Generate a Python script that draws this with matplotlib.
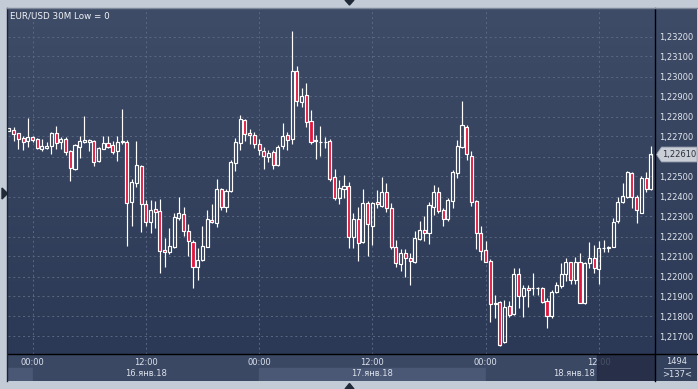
import numpy as np
import pandas as pd
import matplotlib

matplotlib.use("Agg")
import matplotlib.pyplot as plt
from matplotlib.patches import Rectangle, Polygon
from matplotlib.lines import Line2D
from matplotlib.colors import LinearSegmentedColormap
from matplotlib.transforms import blended_transform_factory

# EUR/USD 30M candles, 15.01.18 21:30 .. 18.01.18 17:30
opens = [
    1.22729, 1.22732, 1.22716, 1.22691, 1.22676, 1.22696, 1.22686, 1.22639, 1.22644, 1.22652,
    1.22716, 1.22671, 1.22686, 1.22627, 1.22537, 1.22649, 1.22671, 1.22672, 1.22677, 1.22579,
    1.22639, 1.22666, 1.22657, 1.22629, 1.22671, 1.22671, 1.22374, 1.22466, 1.22552, 1.22361,
    1.22274, 1.22337, 1.22327, 1.22132, 1.22124, 1.22149, 1.22291, 1.22311, 1.22227, 1.22174,
    1.22046, 1.22082, 1.22149, 1.22282, 1.22269, 1.22436, 1.22349, 1.22429, 1.22566, 1.22666,
    1.22782, 1.22716, 1.22706, 1.22661, 1.22629, 1.22599, 1.22621, 1.22557, 1.22652, 1.22707,
    1.22686, 1.23027, 1.22874, 1.22907, 1.22777, 1.22678, 1.22671, 1.22671, 1.22677, 1.22496,
    1.22391, 1.22436, 1.22451, 1.22196, 1.22286, 1.22171, 1.22366, 1.22254, 1.22371, 1.22354,
    1.22421, 1.22341, 1.22146, 1.22061, 1.22116, 1.22091, 1.22074, 1.22186, 1.22232, 1.22219,
    1.22349, 1.22424, 1.22332, 1.22286, 1.22379, 1.22516, 1.22649, 1.22749, 1.22604, 1.22377,
    1.22216, 1.22132, 1.22077, 1.21862, 1.21871, 1.21671, 1.21852, 1.21811, 1.22011, 1.21904,
    1.21944, 1.21940, 1.21940, 1.21941, 1.21879, 1.21802, 1.21924, 1.21954, 1.22011, 1.22071,
    1.21982, 1.22074, 1.21866, 1.22066, 1.22091, 1.22037, 1.22143, 1.22141, 1.22149, 1.22279,
    1.22374, 1.22399, 1.22516, 1.22399, 1.22319, 1.22491, 1.22436,
]
highs = [
    1.22742, 1.22746, 1.22719, 1.22702, 1.22791, 1.22702, 1.22691, 1.22686, 1.22674, 1.22724,
    1.22752, 1.22699, 1.22696, 1.22632, 1.22662, 1.22702, 1.22802, 1.22687, 1.22682, 1.22649,
    1.22702, 1.22702, 1.22679, 1.22702, 1.22836, 1.22682, 1.22486, 1.22677, 1.22557, 1.22382,
    1.22382, 1.22377, 1.22387, 1.22191, 1.22241, 1.22319, 1.22396, 1.22349, 1.22262, 1.22182,
    1.22141, 1.22252, 1.22332, 1.22362, 1.22487, 1.22441, 1.22436, 1.22582, 1.22691, 1.22807,
    1.22787, 1.22736, 1.22724, 1.22686, 1.22646, 1.22632, 1.22632, 1.22657, 1.22766, 1.22724,
    1.23227, 1.23052, 1.22941, 1.22966, 1.22832, 1.22707, 1.22752, 1.22699, 1.22687, 1.22537,
    1.22482, 1.22507, 1.22471, 1.22316, 1.22347, 1.22437, 1.22377, 1.22374, 1.22432, 1.22496,
    1.22466, 1.22369, 1.22182, 1.22137, 1.22137, 1.22116, 1.22227, 1.22277, 1.22304, 1.22371,
    1.22457, 1.22449, 1.22341, 1.22391, 1.22531, 1.22682, 1.22877, 1.22757, 1.22627, 1.22380,
    1.22252, 1.22177, 1.22087, 1.21907, 1.21877, 1.21882, 1.21879, 1.22041, 1.22041, 1.21957,
    1.21957, 1.22016, 1.21949, 1.21949, 1.21891, 1.21932, 1.21974, 1.22069, 1.22091, 1.22074,
    1.22096, 1.22119, 1.22074, 1.22174, 1.22157, 1.22177, 1.22182, 1.22152, 1.22292, 1.22399,
    1.22469, 1.22527, 1.22522, 1.22407, 1.22502, 1.22521, 1.22652,
]
lows = [
    1.22727, 1.22679, 1.22636, 1.22632, 1.22649, 1.22674, 1.22636, 1.22629, 1.22636, 1.22612,
    1.22639, 1.22637, 1.22607, 1.22479, 1.22532, 1.22591, 1.22666, 1.22627, 1.22552, 1.22574,
    1.22636, 1.22641, 1.22612, 1.22579, 1.22662, 1.22154, 1.22252, 1.22449, 1.22224, 1.22252,
    1.22219, 1.22241, 1.22016, 1.22049, 1.22112, 1.22141, 1.22282, 1.22202, 1.22102, 1.21941,
    1.21982, 1.22079, 1.22146, 1.22269, 1.22249, 1.22332, 1.22324, 1.22424, 1.22529, 1.22632,
    1.22679, 1.22662, 1.22641, 1.22607, 1.22536, 1.22574, 1.22537, 1.22552, 1.22637, 1.22632,
    1.22662, 1.22852, 1.22849, 1.22749, 1.22662, 1.22587, 1.22602, 1.22644, 1.22477, 1.22382,
    1.22362, 1.22394, 1.22144, 1.22144, 1.22079, 1.22166, 1.22104, 1.22157, 1.22341, 1.22349,
    1.22321, 1.22137, 1.22049, 1.22029, 1.21999, 1.21957, 1.22069, 1.22182, 1.22177, 1.22161,
    1.22307, 1.22316, 1.22254, 1.22277, 1.22341, 1.22494, 1.22641, 1.22582, 1.22352, 1.22137,
    1.22082, 1.22071, 1.21774, 1.21792, 1.21654, 1.21666, 1.21799, 1.21807, 1.21841, 1.21799,
    1.21849, 1.21907, 1.21907, 1.21866, 1.21741, 1.21791, 1.21916, 1.21941, 1.21977, 1.21962,
    1.21962, 1.21866, 1.21862, 1.22041, 1.22016, 1.21961, 1.22124, 1.22124, 1.22147, 1.22269,
    1.22366, 1.22391, 1.22341, 1.22269, 1.22316, 1.22424, 1.22432,
]
closes = [
    1.22741, 1.22711, 1.22686, 1.22671, 1.22696, 1.22681, 1.22641, 1.22652, 1.22652, 1.22716,
    1.22666, 1.22686, 1.22621, 1.22541, 1.22657, 1.22677, 1.22682, 1.22682, 1.22574, 1.22641,
    1.22669, 1.22649, 1.22624, 1.22672, 1.22679, 1.22369, 1.22471, 1.22557, 1.22361, 1.22271,
    1.22332, 1.22324, 1.22129, 1.22121, 1.22152, 1.22296, 1.22316, 1.22227, 1.22177, 1.22046,
    1.22082, 1.22154, 1.22287, 1.22271, 1.22436, 1.22346, 1.22429, 1.22574, 1.22671, 1.22786,
    1.22711, 1.22706, 1.22661, 1.22632, 1.22602, 1.22616, 1.22557, 1.22649, 1.22702, 1.22682,
    1.23027, 1.22879, 1.22902, 1.22774, 1.22674, 1.22680, 1.22672, 1.22672, 1.22486, 1.22391,
    1.22441, 1.22451, 1.22196, 1.22286, 1.22166, 1.22366, 1.22261, 1.22366, 1.22361, 1.22421,
    1.22341, 1.22149, 1.22066, 1.22116, 1.22091, 1.22077, 1.22191, 1.22232, 1.22216, 1.22357,
    1.22424, 1.22329, 1.22286, 1.22381, 1.22521, 1.22654, 1.22757, 1.22611, 1.22374, 1.22219,
    1.22129, 1.22074, 1.21861, 1.21866, 1.21657, 1.21846, 1.21807, 1.22011, 1.21902, 1.21944,
    1.21932, 1.21942, 1.21941, 1.21874, 1.21802, 1.21921, 1.21957, 1.22011, 1.22071, 1.21982,
    1.22074, 1.21869, 1.22066, 1.22091, 1.22041, 1.22141, 1.22144, 1.22146, 1.22274, 1.22374,
    1.22402, 1.22521, 1.22399, 1.22332, 1.22491, 1.22436, 1.22610,
]
first_bar = "2018-01-15 21:30"
title = "EUR/USD 30M Low = 0"
day_labels = ["16.янв.18", "17.янв.18", "18.янв.18"]
bars_total = "1494"
bars_shown = ">137<"
price_ticks = [1.217, 1.218, 1.219, 1.220, 1.221, 1.222, 1.223, 1.224,
               1.225, 1.226, 1.227, 1.228, 1.229, 1.230, 1.231, 1.232]

W, H = 698, 389
times = pd.date_range(first_bar, periods=len(closes), freq="30min")
idx = np.arange(len(closes))
last = closes[-1]

fig = plt.figure(figsize=(W / 100, H / 100), dpi=100)
fig.patch.set_facecolor("#c3cbd7")


def px_axes(x0, y0, x1, y1):
    return fig.add_axes([x0 / W, 1 - y1 / H, (x1 - x0) / W, (y1 - y0) / H])


def fx(x):
    return x / W


def fy(y):
    return 1 - y / H


bg = LinearSegmentedColormap.from_list("bg", ["#3f4c67", "#2c3956"])
grad = np.linspace(0, 1, 256).reshape(-1, 1)

# right price panel
side = px_axes(655, 8, 697, 354)
side.imshow(grad, cmap=bg, aspect="auto")
side.axis("off")
corner = px_axes(655, 354, 697, 381)
corner.set_facecolor("#34415c")
corner.set_xticks([])
corner.set_yticks([])
for s in corner.spines.values():
    s.set_visible(False)

# main chart
ax = px_axes(8, 8, 655, 354)
px_per_bar = 4.72
xmin = 5 + (8 - 32.5) / px_per_bar
xmax = 5 + (655 - 32.5) / px_per_bar
ymin, ymax = 1.216125, 1.233425
ax.imshow(grad, cmap=bg, aspect="auto", extent=[xmin, xmax, ymin, ymax], zorder=-1)
ax.set_xlim(xmin, xmax)
ax.set_ylim(ymin, ymax)

tick_idx = [i for i, t in enumerate(times) if t.minute == 0 and t.hour in (0, 12)]
ax.set_xticks(tick_idx)
ax.set_yticks(price_ticks)
# the tag of the last price hides the label under it
ax.set_yticklabels(["" if abs(v - last) < 0.0005 else f"{v:.5f}".replace(".", ",")
                    for v in price_ticks])
ax.yaxis.tick_right()
ax.tick_params(axis="y", length=0, pad=3, labelsize=6, labelcolor="#e2e6ee")
ax.tick_params(axis="x", length=0, labelbottom=False)
ax.grid(True, color="#5a6884", ls=(0, (2, 3)), lw=0.7)
ax.set_axisbelow(True)
for s in ax.spines.values():
    s.set_visible(False)

red = "#e0163d"
w = 0.66
for i in idx:
    o, h, l, c = opens[i], highs[i], lows[i], closes[i]
    lo, hi = min(o, c), max(o, c)
    ax.vlines(i, hi, h, color="white", lw=0.85, zorder=3)
    ax.vlines(i, l, lo, color="white", lw=0.85, zorder=3)
    face = red if c < o else "none"
    ax.add_patch(Rectangle((i - w / 2, lo), w, hi - lo, facecolor=face,
                           edgecolor="white", lw=0.85, zorder=4))

ax.text(0.003, 0.99, title, transform=ax.transAxes, ha="left", va="top",
        fontsize=6.3, color="#f2f4f8")

# time panel
bx = px_axes(8, 354, 655, 381)
bx.set_xlim(xmin, xmax)
bx.set_ylim(0, 1)
bx.axis("off")
bx.add_patch(Rectangle((xmin, 0), xmax - xmin, 1, color="#3b4864", zorder=0))
day_starts = [xmin] + [i for i in tick_idx if times[i].hour == 0] + [xmax]
for k in range(len(day_starts) - 1):
    band = "#4a5876" if k % 2 == 0 else "#3b4864"
    bx.axvspan(day_starts[k], day_starts[k + 1], ymin=0, ymax=0.48, color=band, zorder=1)
for i in tick_idx:
    bx.text(i, 0.70, times[i].strftime("%H:%M"), ha="center", va="center",
            fontsize=6, color="#dde2ec", zorder=3)
box_start = 124.5
noons = [i for i in tick_idx if times[i].hour == 12]
for i, lab in zip(noons, day_labels):
    if i < box_start:
        bx.text(i, 0.26, lab, ha="center", va="center", fontsize=6, color="#dde2ec", zorder=3)
    else:
        bx.text(box_start - 0.3, 0.26, lab, ha="right", va="center", fontsize=6,
                color="#dde2ec", zorder=3)
bx.axvspan(box_start, xmax, color="#222b42", alpha=0.8, zorder=4)

fig.text(fx(677), fy(361.5), bars_total, ha="center", va="center", fontsize=6, color="#dde2ec")
fig.text(fx(677), fy(374.5), bars_shown, ha="center", va="center", fontsize=6, color="#dde2ec")
fig.add_artist(Line2D([fx(664), fx(690)], [fy(368), fy(368)], color="#aab3c4", lw=0.6))

# current price tag
hh = 0.00037
tr = blended_transform_factory(fig.transFigure, ax.transData)
fig.add_artist(Polygon([[fx(656.5), last], [fx(661.5), last + hh], [fx(697), last + hh],
                        [fx(697), last - hh], [fx(661.5), last - hh]], closed=True,
                       facecolor="#c9ced7", edgecolor="#a0a8b6", lw=0.6, transform=tr))
fig.text(fx(679.5), last, f"{last:.5f}".replace(".", ","), transform=tr,
         ha="center", va="center", fontsize=6, color="#2a2f3a")

# separators and frame
fig.add_artist(Line2D([fx(655), fx(655)], [fy(8), fy(381)], color="black", lw=1))
fig.add_artist(Line2D([fx(8), fx(697)], [fy(354), fy(354)], color="black", lw=1))
fig.add_artist(Line2D([fx(7.5), fx(7.5)], [fy(7.5), fy(381)], color="#1d2535", lw=1))
fig.add_artist(Line2D([fx(7.5), fx(697)], [fy(7.5), fy(7.5)], color="#7d889b", lw=1))

for pts in ([[2, 188], [2, 199], [7.5, 193.5]],
            [[345, 0], [354, 0], [349.5, 5]],
            [[345, 389], [354, 389], [349.5, 383.5]]):
    fig.add_artist(Polygon([[fx(x), fy(y)] for x, y in pts], closed=True,
                           color="#1f2937", transform=fig.transFigure))

plt.savefig("out.png", dpi=100, facecolor=fig.get_facecolor())
